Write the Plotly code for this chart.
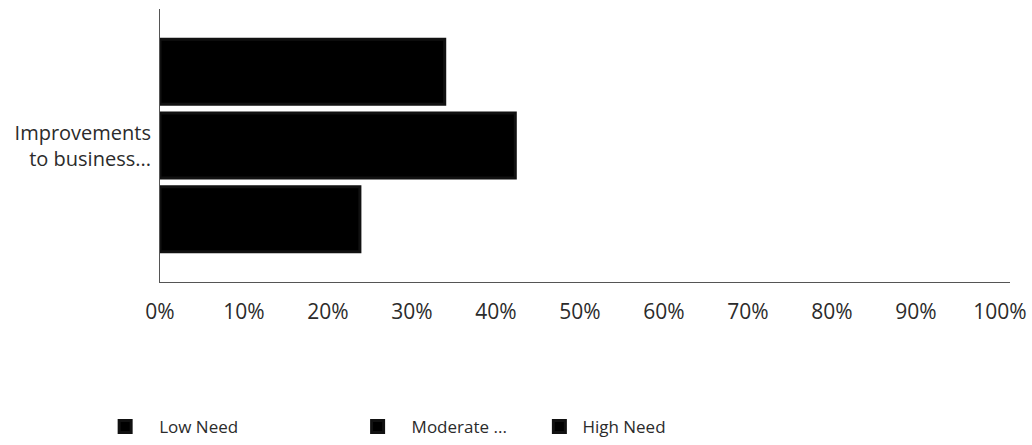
import plotly.graph_objects as go

# Share of respondents by level of need
category = ["Improvements<br>to business..."]
series_names = ["Low Need", "Moderate ...", "High Need"]
series_values = [0.339, 0.423, 0.238]
x_tick_values = [0, 0.1, 0.2, 0.3, 0.4, 0.5, 0.6, 0.7, 0.8, 0.9, 1.0]
x_tick_labels = ["0%", "10%", "20%", "30%", "40%", "50%", "60%", "70%", "80%", "90%", "100%"]

FONT = "Open Sans"
TEXT = "#2b2b2b"
legend_keys = ["legend", "legend2", "legend3"]
legend_x = [-0.081, 0.216, 0.4428]
legend_itemwidth = [58, 58, 36]

fig = go.Figure()
for name, val, lg in zip(series_names, series_values, legend_keys):
    fig.add_trace(go.Bar(
        y=category,
        x=[val],
        name=name,
        orientation="h",
        marker=dict(color="#000000", line=dict(color="#111111", width=3)),
        legend=lg,
        hoverinfo="skip",
    ))

legend_common = dict(
    orientation="h",
    yanchor="middle",
    y=-0.531,
    xanchor="left",
    font=dict(family=FONT, size=17, color=TEXT),
    bgcolor="rgba(0,0,0,0)",
)

layout_legends = {}
for lg, lx, iw in zip(legend_keys, legend_x, legend_itemwidth):
    layout_legends[lg] = dict(legend_common, x=lx, itemwidth=iw)

fig.update_layout(
    width=1032,
    height=445,
    margin=dict(l=160, r=22, t=9, b=163, autoexpand=False),
    paper_bgcolor="white",
    plot_bgcolor="white",
    barmode="group",
    bargap=0.19,
    bargroupgap=0.12,
    showlegend=True,
    font=dict(family=FONT, size=17, color=TEXT),
    xaxis=dict(
        range=[0, 1.012],
        tickvals=x_tick_values,
        ticktext=x_tick_labels,
        showgrid=False,
        zeroline=False,
        showline=True,
        linecolor="#555555",
        linewidth=1,
        ticks="",
        ticklabelstandoff=11,
        tickfont=dict(family=FONT, size=21, color=TEXT),
        automargin=False,
        fixedrange=True,
    ),
    yaxis=dict(
        autorange="reversed",
        showgrid=False,
        zeroline=False,
        showline=True,
        linecolor="#555555",
        linewidth=1,
        ticks="",
        ticklabelstandoff=4,
        tickfont=dict(family=FONT, size=20, color=TEXT),
        automargin=False,
        fixedrange=True,
    ),
    **layout_legends,
)

fig.write_html("out.html", config={"displayModeBar": False})
